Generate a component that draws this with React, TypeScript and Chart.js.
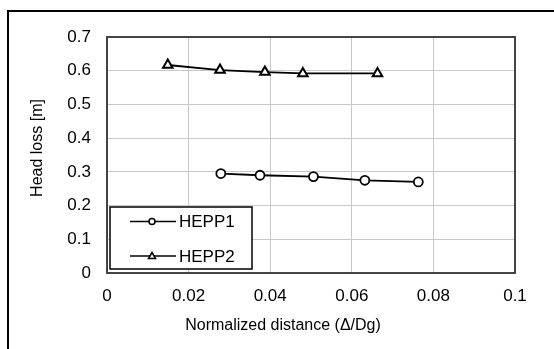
import React, { useEffect, useRef } from "react";
import { Chart, registerables } from "chart.js";

Chart.register(...registerables);

const seriesNames = ["HEPP1", "HEPP2"];
const hepp1X = [0.0279, 0.0375, 0.0506, 0.0632, 0.0763];
const hepp1Y = [0.295, 0.29, 0.286, 0.275, 0.27];
const hepp2X = [0.0149, 0.0277, 0.0387, 0.048, 0.0663];
const hepp2Y = [0.617, 0.602, 0.596, 0.592, 0.592];
const xRange = [0, 0.1];
const xStep = 0.02;
const yRange = [0, 0.7];
const yStep = 0.1;
const xTitle = "Normalized distance (\u0394/Dg)";
const yTitle = "Head loss [m]";

const FONT = "'Liberation Sans', Arial, sans-serif";

const fmt = (v: number) => String(Number(Number(v).toFixed(3)));

const framePlugin = {
  id: "frameAndLegend",
  afterDraw(chart: any) {
    const { ctx, chartArea } = chart;
    const { left, top, right, bottom } = chartArea;
    ctx.save();
    // plot frame
    ctx.strokeStyle = "#333333";
    ctx.lineWidth = 1.8;
    ctx.strokeRect(left, top, right - left, bottom - top);

    // axis titles
    ctx.fillStyle = "#000";
    ctx.font = `16px ${FONT}`;
    ctx.textAlign = "center";
    ctx.textBaseline = "middle";
    ctx.fillText(xTitle, 283, 326);
    ctx.translate(38, 148);
    ctx.rotate(-Math.PI / 2);
    ctx.fillText(yTitle, 0, 0);
    ctx.setTransform(1, 0, 0, 1, 0, 0);

    // legend box
    const bx = left + 3, by = 207, bw = 142, bh = bottom - 4 - 207;
    ctx.fillStyle = "#fff";
    ctx.fillRect(bx, by, bw, bh);
    ctx.strokeStyle = "#000";
    ctx.lineWidth = 1.5;
    ctx.strokeRect(bx, by, bw, bh);

    const rows = [221.5, 256];
    chart.data.datasets.forEach((ds: any, i: number) => {
      const y = rows[i];
      ctx.strokeStyle = "#000";
      ctx.lineWidth = 1.5;
      ctx.beginPath();
      ctx.moveTo(130, y);
      ctx.lineTo(176, y);
      ctx.stroke();
      ctx.fillStyle = "#fff";
      ctx.beginPath();
      if (ds.pointStyle === "circle") {
        ctx.arc(152, y, 3, 0, Math.PI * 2);
      } else {
        ctx.moveTo(152, y - 3.5);
        ctx.lineTo(155.5, y + 2.5);
        ctx.lineTo(148.5, y + 2.5);
        ctx.closePath();
      }
      ctx.fill();
      ctx.stroke();
      ctx.fillStyle = "#000";
      ctx.font = `17px ${FONT}`;
      ctx.textAlign = "left";
      ctx.textBaseline = "middle";
      ctx.fillText(ds.label, 179, y + 1);
    });
    ctx.restore();
  },
};

export default function App() {
  const ref = useRef<HTMLCanvasElement | null>(null);

  useEffect(() => {
    if (!ref.current) return;
    const mk = (xs: number[], ys: number[]) => xs.map((x, i) => ({ x, y: ys[i] }));
    const chart = new Chart(ref.current, {
      type: "line",
      data: {
        datasets: [
          {
            label: seriesNames[0],
            data: mk(hepp1X, hepp1Y),
            borderColor: "#000",
            borderWidth: 1.8,
            pointStyle: "circle",
            pointRadius: 4.5,
            pointBorderWidth: 1.8,
            pointBackgroundColor: "#fff",
            pointBorderColor: "#000",
            tension: 0,
            fill: false,
          },
          {
            label: seriesNames[1],
            data: mk(hepp2X, hepp2Y),
            borderColor: "#000",
            borderWidth: 1.8,
            pointStyle: "triangle",
            pointRadius: 5.5,
            pointBorderWidth: 2,
            pointBackgroundColor: "#fff",
            pointBorderColor: "#000",
            tension: 0,
            fill: false,
          },
        ],
      },
      options: {
        responsive: false,
        animation: false,
        devicePixelRatio: 1,
        layout: { padding: { top: 37, right: 39, left: 0, bottom: 0 } },
        plugins: { legend: { display: false }, tooltip: { enabled: false } },
        scales: {
          x: {
            type: "linear",
            min: xRange[0],
            max: xRange[1],
            afterFit: (s: any) => {
              s.height = 76;
            },
            ticks: {
              stepSize: xStep,
              color: "#000",
              font: { family: FONT, size: 17 },
              padding: 13,
              callback: (v: any) => fmt(v),
            },
            grid: { color: "#c8c8c8", lineWidth: 1, drawTicks: false },
            border: { display: false },
          },
          y: {
            type: "linear",
            min: yRange[0],
            max: yRange[1],
            afterFit: (s: any) => {
              s.width = 107;
            },
            ticks: {
              stepSize: yStep,
              color: "#000",
              font: { family: FONT, size: 17 },
              padding: 16,
              callback: (v: any) => fmt(v),
            },
            grid: { color: "#c8c8c8", lineWidth: 1, drawTicks: false },
            border: { display: false },
          },
        },
      },
      plugins: [framePlugin],
    });
    return () => chart.destroy();
  }, []);

  return (
    <div
      style={{
        position: "fixed",
        left: 0,
        top: 0,
        width: 554,
        height: 349,
        overflow: "hidden",
        background: "#fff",
      }}
    >
      <canvas ref={ref} width={554} height={349} style={{ position: "absolute", left: 0, top: 0 }} />
      <div
        style={{
          position: "absolute",
          left: 7,
          top: 10,
          width: 600,
          height: 400,
          border: "2px solid #000",
          boxSizing: "border-box",
          pointerEvents: "none",
        }}
      />
    </div>
  );
}
